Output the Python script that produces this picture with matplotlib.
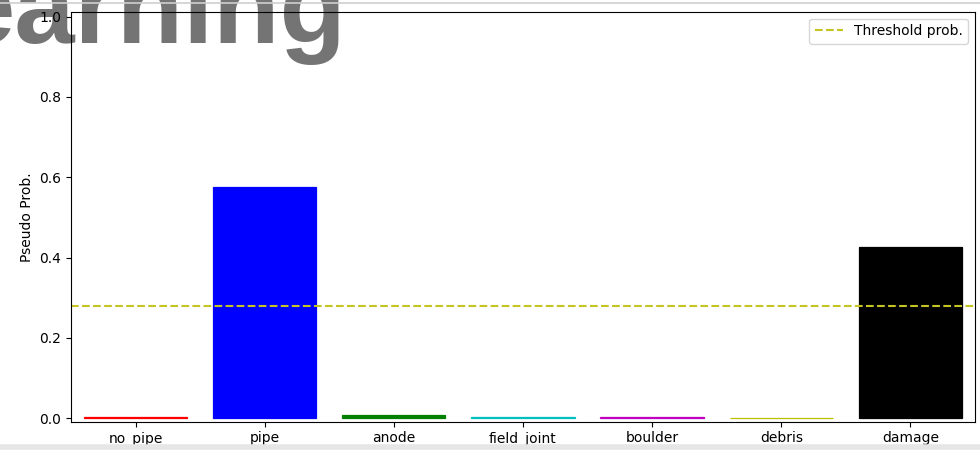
import matplotlib
matplotlib.use("Agg")
import matplotlib.pyplot as plt
from matplotlib.lines import Line2D

categories = ["no_pipe", "pipe", "anode", "field_joint", "boulder", "debris", "damage"]
probs = [0.002, 0.575, 0.007, 0.004, 0.002, 0.0015, 0.427]
bar_colors = ["r", "b", "g", "c", "m", "y", "k"]
threshold = 0.279
yticks = [0.0, 0.2, 0.4, 0.6, 0.8, 1.0]

fig = plt.figure(figsize=(9.8, 4.5), dpi=100)
ax = fig.add_axes([0.0724, 0.0629, 0.9225, 0.911])
ax.patch.set_visible(False)

# background title fragment (cropped slide text)
fig.text(-0.046, 0.904, "earning", fontsize=78, weight="bold",
         family="Liberation Sans", color="#747474", ha="left", va="baseline", zorder=-1)

x = list(range(len(categories)))
ax.bar(x, probs, color=bar_colors, edgecolor=bar_colors, linewidth=0.9, width=0.8)
ax.axhline(threshold, color="#c4c422", linestyle="--", label="Threshold prob.")
ax.set_xticks(x)
ax.set_xticklabels(categories)
ax.set_yticks(yticks)
ax.set_xlim(-0.5, 6.5)
ax.set_ylim(-0.0085, 1.012)
ax.set_ylabel("Pseudo Prob.")
ax.legend(loc="upper right")

# screenshot border lines
fig.add_artist(Line2D([0, 1], [0.994, 0.994], color="#cfcfcf", lw=1.2, transform=fig.transFigure))
fig.add_artist(Line2D([0, 1], [0.006, 0.006], color="#e6e6e6", lw=4, transform=fig.transFigure))

fig.savefig("out.png", dpi=100)
